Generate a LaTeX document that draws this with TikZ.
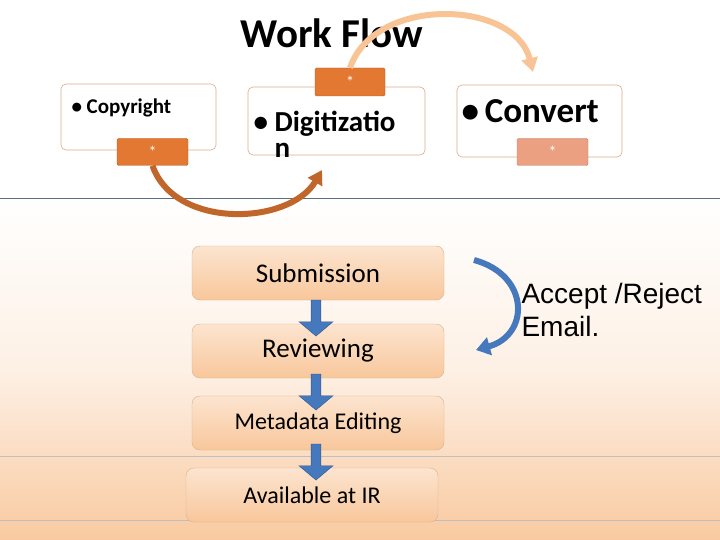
\documentclass[tikz,border=0pt]{standalone}
\usepackage{fontspec}
\setmainfont{Carlito}
\newfontfamily\arialf{Liberation Sans}
\usetikzlibrary{arrows.meta,shapes.arrows}
\definecolor{peach}{RGB}{248,196,150}
\definecolor{tabor}{RGB}{226,120,50}
\definecolor{tabsal}{RGB}{236,160,130}
\definecolor{boxedge}{RGB}{220,170,140}
\definecolor{arrblue}{RGB}{70,120,190}
\definecolor{linegray}{RGB}{90,110,135}
\tikzset{
  card/.style={draw=boxedge, fill=white, rounded corners=5pt, line width=0.6pt},
  tab/.style={fill=#1, draw=#1!80!black, rounded corners=1.5pt, text=white, font=\fontsize{16}{18}\selectfont},
  stepbox/.style={draw=peach!90!black, rounded corners=8pt, top color=peach!45, bottom color=peach!95, font=\fontsize{27}{30}\selectfont, minimum width=252pt, minimum height=54pt},
  downarr/.style={single arrow, draw=arrblue!70!black, fill=arrblue, shape border rotate=270, minimum width=34pt, single arrow head extend=3pt, single arrow tip angle=100, minimum height=36pt, inner sep=1pt},
}
\begin{document}
\begin{tikzpicture}[x=1pt,y=-1pt]
\useasboundingbox (0,0) rectangle (720,540);
\fill[white] (0,0) rectangle (720,198);
\shade[top color=white, bottom color=peach!90, middle color=peach!25] (0,198) rectangle (720,540);
\draw[color=linegray, line width=0.6pt] (0,198) -- (720,198);
\draw[color=gray!50, line width=0.4pt] (0,456) -- (720,456);
\draw[color=gray!50, line width=0.4pt] (0,520) -- (720,520);

\node[font=\bfseries\fontsize{41}{43}\selectfont] (title) at (332,33) {Work Flow};

% cards
\node[card, minimum width=155pt, minimum height=66pt] (copy) at (138.5,117) {};
\node[anchor=west, font=\bfseries\fontsize{21}{24}\selectfont] (copyt) at (68,108) {\textbullet\ Copyright};
\node[tab=tabor, minimum width=71pt, minimum height=27pt] (copytab) at (152.5,152) {*};

\node[card, minimum width=177pt, minimum height=68pt] (digi) at (336.5,121) {};
\node[anchor=north west, align=left, font=\bfseries\fontsize{29}{30}\selectfont] (digit) at (250,108) {\textbullet\ Digitizatio\\[-4pt]\hphantom{\textbullet\ }n};
\node[tab=tabor, minimum width=70pt, minimum height=28pt] (digitab) at (350,82) {*};

\node[card, minimum width=165pt, minimum height=72pt] (conv) at (539.5,121) {};
\node[anchor=west, font=\bfseries\fontsize{35}{37}\selectfont] (convt) at (458,111) {\textbullet\,Convert};
\node[tab=tabsal, minimum width=71pt, minimum height=27pt] (convtab) at (552.5,152) {*};

% curved arrows
\draw[tabor!85!black, line width=6pt, -{Triangle[length=14pt,width=16pt]}]
  (copytab.south) .. controls (175,230) and (290,225) .. (322,170);
\draw[peach, line width=6pt, -{Triangle[length=14pt,width=16pt]}]
  (digitab.north) .. controls (375,-5) and (515,0) .. (533,72);

% steps
\node[stepbox] (sub) at (318,273) {Submission};
\node[stepbox] (rev) at (318,351) {Reviewing};
\node[stepbox, font=\fontsize{24}{26}\selectfont] (meta) at (318,423) {Metadata Editing};
\node[stepbox, font=\fontsize{24}{26}\selectfont] (avail) at (312,495) {Available at IR};

\node[downarr] (a1) at (316,316) {};
\node[downarr] (a2) at (316,390) {};
\node[downarr] (a3) at (316,460) {};

% side arrow
\coordinate (cs) at (474,260);
\coordinate (ce) at (476,350);
\draw[arrblue, line width=6pt, -{Triangle[length=14pt,width=18pt]}]
  (cs) .. controls (530,275) and (530,335) .. (ce);
\node[anchor=north west, align=left, font=\arialf\fontsize{28}{33}\selectfont] (acc) at (518,280) {Accept /Reject\\Email.};
\end{tikzpicture}
\end{document}
